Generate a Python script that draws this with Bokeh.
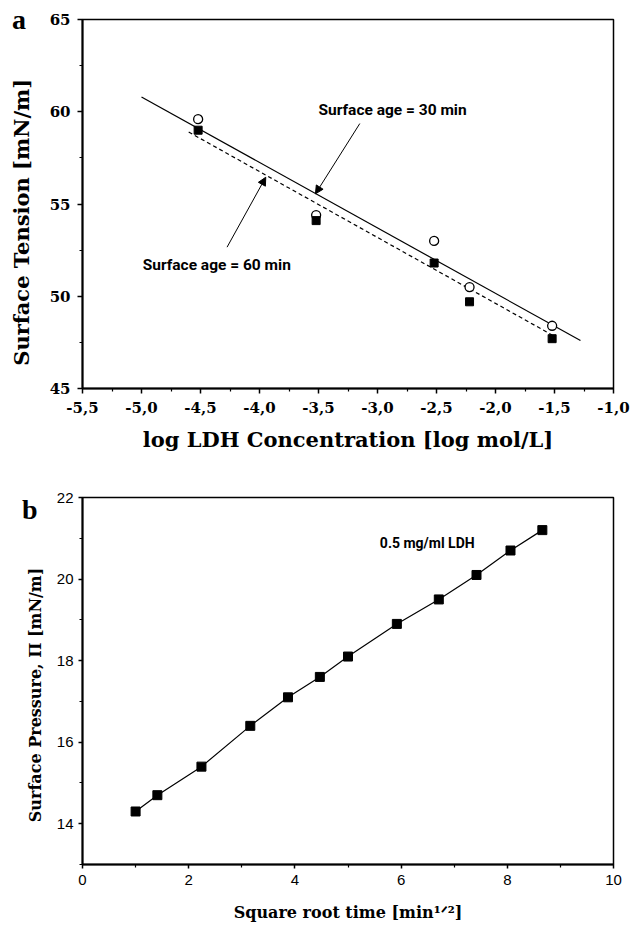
from bokeh.plotting import figure
from bokeh.models import (FixedTicker, CustomJSTickFormatter, Label, Div,
                          Arrow, NormalHead, Range1d)
from bokeh.layouts import column
from bokeh.embed import file_html
from bokeh.resources import INLINE

# ---------------- Panel a data ----------------
log_conc = [-4.52, -3.52, -2.52, -2.22, -1.52]
st_30min = [59.6, 54.4, 53.0, 50.5, 48.4]
st_60min = [59.0, 54.1, 51.8, 49.7, 47.7]
fit30_x = [-5.0, -1.28]
fit30_y = [60.8, 47.6]
fit60_x = [-4.6, -1.52]
fit60_y = [58.9, 47.9]
xticks_a = [-5.5, -5.0, -4.5, -4.0, -3.5, -3.0, -2.5, -2.0, -1.5, -1.0]
xminor_a = [-5.25, -4.75, -4.25, -3.75, -3.25, -2.75, -2.25, -1.75, -1.25]
yticks_a = [45, 50, 55, 60, 65]
yminor_a = [47.5, 52.5, 57.5, 62.5]

# ---------------- Panel b data ----------------
sqrt_time = [1.0, 1.41, 2.24, 3.16, 3.87, 4.47, 5.0, 5.92, 6.71, 7.42, 8.06, 8.66]
pressure = [14.3, 14.7, 15.4, 16.4, 17.1, 17.6, 18.1, 18.9, 19.5, 20.1, 20.7, 21.2]
xticks_b = [0, 2, 4, 6, 8, 10]
xminor_b = [1, 3, 5, 7, 9]
yticks_b = [14, 16, 18, 20, 22]
yminor_b = [13, 15, 17, 19, 21]

SERIF = "DejaVu Serif"
ANNOT = "Roboto"
NB = "\u00a0"

# ================= Panel a =================
p1 = figure(width=634, height=466, x_range=Range1d(-5.5, -1.0), y_range=Range1d(45, 65),
            output_backend="svg", toolbar_location=None,
            min_border_left=82, min_border_right=17, min_border_top=19, min_border_bottom=78)
p1.xgrid.visible = False
p1.ygrid.visible = False
p1.outline_line_color = "black"
p1.outline_line_width = 1.5

comma_fmt = CustomJSTickFormatter(code="return tick.toFixed(1).replace('.', ',');")
xa = p1.xaxis[0]
xa.ticker = FixedTicker(ticks=xticks_a, minor_ticks=xminor_a)
xa.formatter = comma_fmt
ya = p1.yaxis[0]
ya.ticker = FixedTicker(ticks=yticks_a, minor_ticks=yminor_a)
for ax in (xa, ya):
    ax.axis_line_width = 2
    ax.major_tick_line_width = 1.5
    ax.minor_tick_line_width = 1.2
    ax.major_tick_out = 5
    ax.major_tick_in = 0
    ax.minor_tick_out = 3
    ax.minor_tick_in = 0
    ax.major_label_text_font = SERIF
    ax.major_label_text_font_style = "bold"
    ax.major_label_text_font_size = "15px"
    ax.major_label_text_color = "black"
    ax.axis_label_text_font = SERIF
    ax.axis_label_text_font_style = "bold"
    ax.axis_label_text_font_size = "21px"
    ax.axis_label_text_color = "black"
xa.major_label_standoff = 8
xa.axis_label_standoff = 11
xa.axis_label = "log LDH Concentration [log mol/L]"
ya.major_label_standoff = 7
ya.axis_label_standoff = 13
ya.axis_label = "Surface Tension [mN/m]" + NB * 5

p1.line(fit30_x, fit30_y, line_color="black", line_width=1.2)
p1.line(fit60_x, fit60_y, line_color="black", line_width=1.2, line_dash="4 3")
p1.scatter(log_conc, st_30min, marker="circle", size=9, fill_color="white",
           line_color="black", line_width=1.3)
p1.scatter(log_conc, st_60min, marker="square", size=8, fill_color="black",
           line_color="black")

p1.add_layout(Arrow(end=NormalHead(size=8, fill_color="black", line_color="black"),
                    x_start=-3.15, y_start=59.36, x_end=-3.526, y_end=55.55,
                    line_color="black", line_width=1))
p1.add_layout(Arrow(end=NormalHead(size=8, fill_color="black", line_color="black"),
                    x_start=-4.275, y_start=52.66, x_end=-3.947, y_end=56.45,
                    line_color="black", line_width=1))
p1.add_layout(Label(x=-3.5, y=60.07, text="Surface age = 30 min", text_font=ANNOT,
                    text_font_style="bold", text_font_size="15.5px", text_baseline="middle",
                    text_align="left", text_color="black"))
p1.add_layout(Label(x=-4.99, y=51.72, text="Surface age = 60 min", text_font=ANNOT,
                    text_font_style="bold", text_font_size="15.5px", text_baseline="middle",
                    text_align="left", text_color="black"))

# ================= Panel b =================
p2 = figure(width=634, height=458, x_range=Range1d(0, 10), y_range=Range1d(13, 22),
            output_backend="svg", toolbar_location=None,
            min_border_left=77, min_border_right=21, min_border_top=31, min_border_bottom=60)
p2.xgrid.visible = False
p2.ygrid.visible = False
p2.outline_line_color = "black"
p2.outline_line_width = 1.5

xb = p2.xaxis[0]
xb.ticker = FixedTicker(ticks=xticks_b, minor_ticks=xminor_b)
yb = p2.yaxis[0]
yb.ticker = FixedTicker(ticks=yticks_b, minor_ticks=yminor_b)
for ax in (xb, yb):
    ax.axis_line_width = 2
    ax.major_tick_line_width = 1.5
    ax.minor_tick_line_width = 1.2
    ax.major_tick_out = 4
    ax.major_tick_in = 0
    ax.minor_tick_out = 3
    ax.minor_tick_in = 0
    ax.major_label_text_font = "Liberation Sans"
    ax.major_label_text_font_size = "15px"
    ax.major_label_text_color = "black"
    ax.axis_label_text_font = SERIF
    ax.axis_label_text_font_style = "bold"
    ax.axis_label_text_font_size = "16px"
    ax.axis_label_text_color = "black"
xb.major_label_standoff = 6
xb.axis_label_standoff = 15
xb.axis_label = "Square root time [min¹ᐟ²]"
yb.major_label_standoff = 5
yb.axis_label_standoff = 9
yb.axis_label = "Surface Pressure, Π [mN/m]" + NB * 5

p2.line(sqrt_time, pressure, line_color="black", line_width=1.2)
p2.scatter(sqrt_time, pressure, marker="square", size=9, fill_color="black",
           line_color="black")

p2.add_layout(Label(x=5.6, y=20.88, text="0.5 mg/ml LDH", text_font=ANNOT,
                    text_font_style="bold", text_font_size="14px", text_baseline="middle",
                    text_align="left", text_color="black"))

# panel letters, placed over the page outside the plot frames
div_style = {"position": "absolute", "font-family": "Liberation Serif", "font-weight": "bold",
             "line-height": "1", "color": "black", "z-index": "10", "font-size": "28px"}
div_a = Div(text="a", width=30, height=30,
            styles=dict(div_style, left="7px", top="1px"))
div_b = Div(text="b", width=30, height=30,
            styles=dict(div_style, left="17px", top="491px"))

layout = column(p1, p2, div_a, div_b, spacing=0)
open("out.html", "w").write(file_html(layout, INLINE))
